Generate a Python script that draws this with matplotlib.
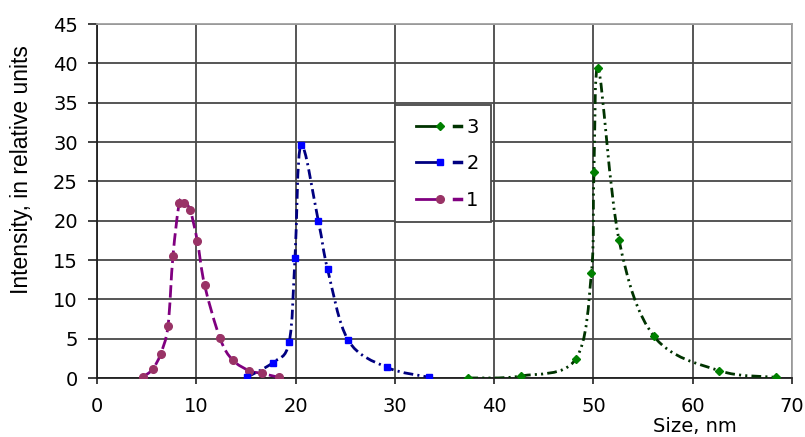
import matplotlib
matplotlib.use("Agg")
import matplotlib.pyplot as plt
import numpy as np
from matplotlib.path import Path
from matplotlib.patches import PathPatch
from matplotlib.lines import Line2D
from matplotlib.legend_handler import HandlerBase

plt.rcParams['font.family'] = ['DejaVu Sans']
plt.rcParams['lines.scale_dashes'] = False

# ---- data ----
x1 = [4.66, 5.6, 6.4, 7.15, 7.65, 8.3, 8.8, 9.37, 10.1, 10.84, 12.39, 13.66, 15.34, 16.58, 18.3]
y1 = [0.17, 1.1, 3.05, 6.6, 15.5, 22.3, 22.2, 21.4, 17.45, 11.8, 5.04, 2.29, 0.93, 0.59, 0.09]

x2 = [15.07, 17.7, 19.35, 19.94, 20.54, 22.3, 23.23, 25.3, 29.17, 33.47]
y2 = [0.09, 1.95, 4.55, 15.2, 29.6, 19.9, 13.8, 4.8, 1.36, 0.09]

x3 = [37.4, 42.67, 48.2, 49.8, 50.05, 50.5, 52.57, 56.1, 62.67, 68.4]
y3 = [0.0, 0.25, 2.37, 13.4, 26.2, 39.35, 17.6, 5.3, 0.93, 0.09]

labels = ['3', '2', '1']
xticks = [0, 10, 20, 30, 40, 50, 60, 70]
yticks = [0, 5, 10, 15, 20, 25, 30, 35, 40, 45]

styles = {
    '1': dict(line='#800080', mk='#993366', marker='o', ms=5.5, dash=(0, (9, 3.5))),
    '2': dict(line='#000080', mk='#0000FF', marker='s', ms=4.8, dash=(0, (7, 3, 1.5, 3))),
    '3': dict(line='#003300', mk='#008000', marker='D', ms=4.5, dash=(0, (7, 3, 1.5, 3, 1.5, 3))),
}


def smooth_path(xs, ys):
    p = np.column_stack([xs, ys]).astype(float)
    n = len(p)
    verts = [p[0]]
    codes = [Path.MOVETO]
    for i in range(n - 1):
        p0 = p[i - 1] if i > 0 else p[i]
        p1 = p[i]
        p2 = p[i + 1]
        p3 = p[i + 2] if i + 2 < n else p[i + 1]
        c1 = p1 + (p2 - p0) / 6.0
        c2 = p2 - (p3 - p1) / 6.0
        verts += [c1, c2, p2]
        codes += [Path.CURVE4] * 3
    return Path(verts, codes)


fig = plt.figure(figsize=(8.05, 4.37), dpi=100)
ax = fig.add_axes([97 / 805, 1 - 378 / 437, (792 - 97) / 805, (378 - 24) / 437])

ax.set_xlim(0, 70)
ax.set_ylim(0, 45)
ax.set_xticks(xticks)
ax.set_yticks(yticks)
ax.grid(True, color='#484848', linewidth=1.3)
ax.set_axisbelow(True)
for s in ['top', 'right']:
    ax.spines[s].set_color('#a0a0a0')
    ax.spines[s].set_linewidth(1.3)
for s in ['left', 'bottom']:
    ax.spines[s].set_color('#202020')
    ax.spines[s].set_linewidth(1.3)
ax.tick_params(axis='y', direction='out', length=6.2, width=1.2, color='#202020',
               labelsize=14, pad=7.5)
ax.tick_params(axis='x', direction='out', length=4.3, width=1.2, color='#202020',
               labelsize=14, pad=9.7)

data = {'1': (x1, y1), '2': (x2, y2), '3': (x3, y3)}
for key in ['1', '2', '3']:
    xs, ys = data[key]
    st = styles[key]
    patch = PathPatch(smooth_path(xs, ys), fill=False, edgecolor=st['line'],
                      linewidth=2.0, linestyle=st['dash'], capstyle='butt', zorder=3)
    ax.add_patch(patch)
    ax.plot(xs, ys, linestyle='none', marker=st['marker'], ms=st['ms'],
            color=st['mk'], mec=st['mk'], zorder=4)

ax.set_ylabel('Intensity, in relative units', fontsize=16.5,
              family=['Liberation Sans', 'DejaVu Sans'])
ax.yaxis.set_label_coords((33 - 97) / 695, (378 - 170) / 354)
ax.set_xlabel('Size, nm', fontsize=14)
ax.xaxis.set_label_coords(0.86, (378 - 417.5) / 354)


class ExcelHandler(HandlerBase):
    def create_artists(self, legend, orig_handle, xdescent, ydescent, width, height, fontsize, trans):
        y = height / 2 - ydescent
        x0 = -xdescent
        c = orig_handle.get_color()
        mc = orig_handle.get_markerfacecolor()
        mk = orig_handle.get_marker()
        ms = orig_handle.get_markersize()
        l1 = Line2D([x0 + width * 0.15, x0 + width * 0.6], [y, y], color=c, lw=2, transform=trans)
        m = Line2D([x0 + width * 0.6], [y], marker=mk, ms=ms, color=mc, mec=mc,
                   linestyle='none', transform=trans)
        l2 = Line2D([x0 + width * 0.87, x0 + width * 1.0], [y, y], color=c,
                    lw=2.5, transform=trans)
        return [l1, m, l2]


handles = []
for key in labels:
    st = styles[key]
    handles.append(Line2D([], [], color=st['line'], marker=st['marker'], ms=st['ms'],
                          markerfacecolor=st['mk']))
leg = ax.legend(handles, labels, handler_map={Line2D: ExcelHandler()},
                loc='upper left', bbox_to_anchor=((395 - 97) / 695, 1 - (105 - 24) / 354),
                fontsize=14, frameon=True, fancybox=False, framealpha=1,
                edgecolor='#484848', handlelength=2.75, handletextpad=0.26,
                labelspacing=0.9, borderpad=0.65, borderaxespad=0)
leg.get_frame().set_linewidth(1.3)
leg.set_zorder(5)

fig.savefig('out.png', dpi=100)
